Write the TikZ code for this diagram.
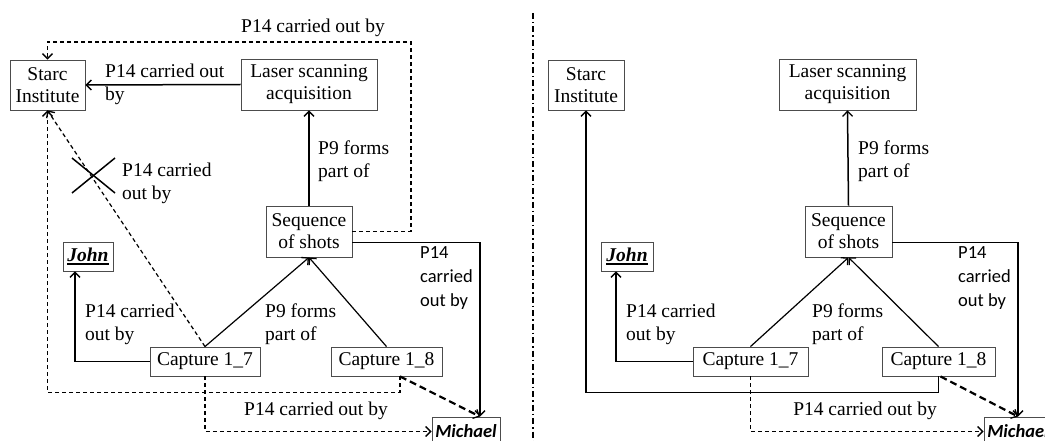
\documentclass[tikz,border=0pt]{standalone}
\usepackage{fontspec}
\setmainfont{Liberation Serif}
\newfontfamily\tnr{Liberation Serif}
\newfontfamily\calib{Carlito}
\usetikzlibrary{arrows.meta}

% bold italic name with a heavy underline
\newcommand\heavyul[1]{\leavevmode\vtop{\hbox{#1}\kern1.2pt\hrule height 2pt}}

\tikzset{
  tip/.style={-{Straight Barb[length=5pt,width=10pt,line width=1.3pt]}},
  box/.style={draw=black!70, line width=0.9pt, inner sep=0pt, align=center,
    font=\tnr\fontsize{19.5}{22}\selectfont},
  lbl/.style={inner sep=0pt, align=left, anchor=west,
    font=\tnr\fontsize{19.5}{23}\selectfont},
  midlbl/.style={inner sep=0pt, align=center, font=\tnr\fontsize{19.5}{23}\selectfont},
  slbl/.style={inner sep=0pt, align=left, anchor=west,
    font=\calib\fontsize{18.5}{24}\selectfont},
  namebox/.style={draw=black!70, line width=0.9pt, inner sep=0pt, align=center,
    font=\calib\bfseries\itshape\fontsize{18.5}{22}\selectfont},
  rel/.style={line width=1.5pt, tip},
  lightrel/.style={line width=1.2pt, tip},
  dashrel/.style={line width=1.2pt, dash pattern=on 4pt off 3pt, tip},
  heavydash/.style={line width=2.2pt, dash pattern=on 7pt off 4pt, tip},
  divider/.style={line width=1.3pt, dash pattern=on 6pt off 3pt on 1.5pt off 3pt},
}

\begin{document}
\begin{tikzpicture}[x=1pt,y=-1pt]
\useasboundingbox (0,0) rectangle (1045,441);

% ---------- left panel ----------
\node[box, minimum width=75pt, minimum height=50pt] (starcL) at (47.5,85) {Starc\\Institute};
\node[box, minimum width=136pt, minimum height=51pt] (laserL) at (309,84.5) {Laser scanning\\acquisition};
\node[box, minimum width=86pt, minimum height=51pt] (seqL) at (309,231.5) {Sequence\\of shots};
\node[box, minimum width=50pt, minimum height=29pt] (johnL) at (88,256.5) {\heavyul{\bfseries\itshape John}};
\node[box, minimum width=110pt, minimum height=29pt] (cap7L) at (205,361.5) {Capture 1\_7};
\node[box, minimum width=111pt, minimum height=29pt] (cap8L) at (386.5,361.5) {Capture 1\_8};
\node[namebox, minimum width=68pt, minimum height=29pt] (michaelL) at (466,431.5) {Michael};
\coordinate (mtopL) at ([xshift=14pt]michaelL.north);

\draw[rel] (laserL.west) -- (starcL.east);
\node[lbl] (l1) at (105,84) {P14 carried out\\by};

\draw[dashrel] (seqL.east) -| (411,42) -| (starcL.north);
\node[midlbl] (l2) at (313,28) {P14 carried out by};

\draw[rel] (seqL.north) -- (laserL.south);
\node[lbl] (l3) at (318,161) {P9 forms\\part of};

\draw[rel] (cap7L.west) -| ([xshift=-13pt]johnL.south);
\node[lbl] (l4) at (85,324) {P14 carried\\out by};

\draw[lightrel] (cap7L.north) -- (seqL.south);
\draw[lightrel] (cap8L.north) -- (seqL.south);
\node[lbl] (l5) at (265,324) {P9 forms\\part of};

\draw[dashrel] (cap7L.north) -- (starcL.south);
\draw[line width=1.5pt] (72,158) -- (115,193);
\draw[line width=1.5pt] (72,193) -- (115,158);
\node[lbl] (l6) at (122,183) {P14 carried\\out by};

\draw[dashrel] ([xshift=13.5pt]cap8L.south) -- ++(0,16) -| (starcL.south);

\draw[dashrel] (cap7L.south) |- (michaelL.west);
\node[midlbl] (l7) at (316,411) {P14 carried out by};

\draw[heavydash] ([xshift=13.5pt]cap8L.south) -- (mtopL);

\draw[rel] ([yshift=-11pt]seqL.east) -| (mtopL);
\node[slbl] (l8) at (420,278) {P14\\carried\\out by};

% ---------- divider ----------
\coordinate (dtop) at (533,13);
\coordinate (dbot) at (533,441);
\draw[divider] (dtop) -- (dbot);

% ---------- right panel ----------
\node[box, minimum width=76pt, minimum height=50pt] (starcR) at (586,85) {Starc\\Institute};
\node[box, minimum width=137pt, minimum height=51pt] (laserR) at (847.5,84.5) {Laser scanning\\acquisition};
\node[box, minimum width=87pt, minimum height=51pt] (seqR) at (848.5,231.5) {Sequence\\of shots};
\node[box, minimum width=52pt, minimum height=29pt] (johnR) at (627,256.5) {\heavyul{\bfseries\itshape John}};
\node[box, minimum width=115pt, minimum height=29pt] (cap7R) at (750.5,361.5) {Capture 1\_7};
\node[box, minimum width=113pt, minimum height=29pt] (cap8R) at (938.5,361.5) {Capture 1\_8};
\node[namebox, minimum width=68pt, minimum height=29pt] (michaelR) at (1018,431.5) {Michael};

\draw[rel] (seqR.north) -- (laserR.south);
\node[lbl] (r3) at (858,161) {P9 forms\\part of};

\draw[rel] (cap8R.south) -- ++(0,16) -| (starcR.south);

\draw[rel] (cap7R.west) -| ([xshift=-11pt]johnR.south);
\node[lbl] (r4) at (626,324) {P14 carried\\out by};

\draw[lightrel] (cap7R.north) -- (seqR.south);
\draw[lightrel] (cap8R.north) -- (seqR.south);
\node[lbl] (r5) at (812,324) {P9 forms\\part of};

\draw[rel] ([yshift=-11pt]seqR.east) -| (michaelR.north);
\node[slbl] (r8) at (958,278) {P14\\carried\\out by};

\draw[heavydash] ([xshift=2pt]cap8R.south) -- (michaelR.north);

\draw[dashrel] (cap7R.south) |- (michaelR.west);
\node[midlbl] (r7) at (865,411) {P14 carried out by};
\end{tikzpicture}
\end{document}
